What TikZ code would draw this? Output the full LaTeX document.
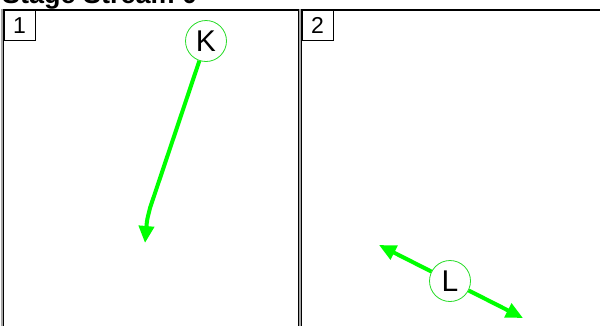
\documentclass[tikz,border=0pt]{standalone}
\usepackage{fontspec}
\setmainfont{Liberation Sans}
\usetikzlibrary{arrows.meta}

\definecolor{flowgreen}{RGB}{0,255,0}
\definecolor{ringgreen}{RGB}{40,220,40}

\tikzset{
  panel/.style={draw=black, line width=1.2pt},
  panelshade/.style={draw=gray!70, line width=3pt},
  tag/.style={draw=black, line width=0.8pt, minimum width=31pt, minimum height=30pt,
    inner sep=0pt, anchor=north west, font=\fontsize{23}{23}\selectfont},
  stream/.style={circle, draw=ringgreen, line width=0.8pt, fill=white,
    minimum size=41pt, inner sep=0pt, font=\fontsize{30}{30}\selectfont},
  flow/.style={flowgreen, line width=4pt,
    -{Triangle[length=17pt,width=15pt]}}
}

\begin{document}
\begin{tikzpicture}[x=1pt,y=-1pt]
  \path[use as bounding box, clip] (0,0) rectangle (600,325);
  \fill[white] (0,0) rectangle (600,325);
  \node[anchor=base west, inner sep=0pt, font=\bfseries\fontsize{27}{27}\selectfont]
    (title) at (2,3) {Stage Stream 0};
  % panels
  \draw[panelshade] (2,9) -- (2,340);
  \draw[panelshade] (300,9) -- (300,340);
  \foreach \l/\r in {3.5/298.5, 301.5/620}
    \draw[panel] (\l,340) -- (\l,10) -- (\r,10) -- (\r,340);
  \node[tag] (one) at (3.5,10) {1};
  \node[tag] (two) at (301.5,10) {2};
  % streams
  \node[stream] (K) at (206,41) {K};
  \coordinate (kbend) at (150,208);
  \coordinate (kend) at (145,243);
  \draw[flow] (K) -- (kbend) .. controls (147,220) .. (kend);
  \node[stream] (L) at (450,281) {L};
  \coordinate (lup) at (379,245);
  \coordinate (ldown) at (523,318);
  \draw[flow] (L) -- (lup);
  \draw[flow] (L) -- (ldown);
\end{tikzpicture}
\end{document}
